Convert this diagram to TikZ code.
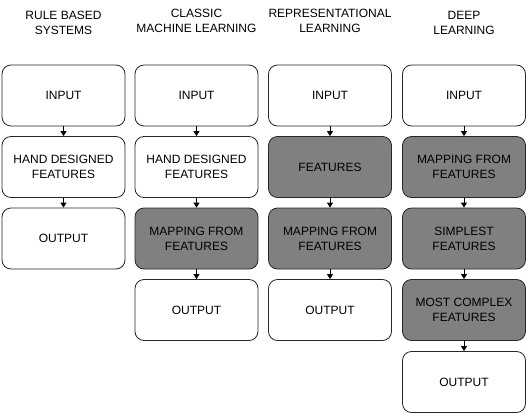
\documentclass[tikz,border=0pt]{standalone}
\usepackage{fontspec}
\setmainfont{Liberation Sans}
\usetikzlibrary{arrows.meta}
\definecolor{boxgray}{HTML}{808080}
\begin{document}
\begin{tikzpicture}[x=1pt,y=-1pt,
  stagebox/.style={draw=black!85,line width=0.8pt,rounded corners=9pt,minimum width=123pt,minimum height=61pt,align=center,font=\fontsize{12}{15}\selectfont,inner sep=1pt},
  learnbox/.style={stagebox,fill=boxgray},
  plainbox/.style={stagebox,fill=white},
  coltitle/.style={align=center,font=\fontsize{12}{14.5}\selectfont},
  flow/.style={line width=0.8pt,-{Triangle[width=6pt,length=5pt]}}]
\useasboundingbox (0,0) rectangle (528,418);
% titles
\node[coltitle] (t1) at (63.5,23) {RULE BASED\\SYSTEMS};
\node[coltitle] (t2) at (196.5,21) {CLASSIC\\MACHINE LEARNING};
\node[coltitle] (t3) at (330,21) {REPRESENTATIONAL\\LEARNING};
\node[coltitle] (t4) at (464,23) {DEEP\\LEARNING};
% column 1
\node[plainbox] (a1) at (63.5,95.5) {INPUT};
\node[plainbox] (a2) at (63.5,167) {HAND DESIGNED\\FEATURES};
\node[plainbox] (a3) at (63.5,238.5) {OUTPUT};
% column 2
\node[plainbox] (b1) at (196.5,95.5) {INPUT};
\node[plainbox] (b2) at (196.5,167) {HAND DESIGNED\\FEATURES};
\node[learnbox] (b3) at (196.5,238.5) {MAPPING FROM\\FEATURES};
\node[plainbox] (b4) at (196.5,310) {OUTPUT};
% column 3
\node[plainbox] (c1) at (330,95.5) {INPUT};
\node[learnbox] (c2) at (330,167) {FEATURES};
\node[learnbox] (c3) at (330,238.5) {MAPPING FROM\\FEATURES};
\node[plainbox] (c4) at (330,310) {OUTPUT};
% column 4
\node[plainbox] (d1) at (464,95.5) {INPUT};
\node[learnbox] (d2) at (464,167) {MAPPING FROM\\FEATURES};
\node[learnbox] (d3) at (464,238.5) {SIMPLEST\\FEATURES};
\node[learnbox] (d4) at (464,310) {MOST COMPLEX\\FEATURES};
\node[plainbox] (d5) at (464,382) {OUTPUT};
% arrows
\draw[flow] (a1) -- (a2);
\draw[flow] (a2) -- (a3);
\draw[flow] (b1) -- (b2);
\draw[flow] (b2) -- (b3);
\draw[flow] (b3) -- (b4);
\draw[flow] (c1) -- (c2);
\draw[flow] (c2) -- (c3);
\draw[flow] (c3) -- (c4);
\draw[flow] (d1) -- (d2);
\draw[flow] (d2) -- (d3);
\draw[flow] (d3) -- (d4);
\draw[flow] (d4) -- (d5);
\end{tikzpicture}
\end{document}
